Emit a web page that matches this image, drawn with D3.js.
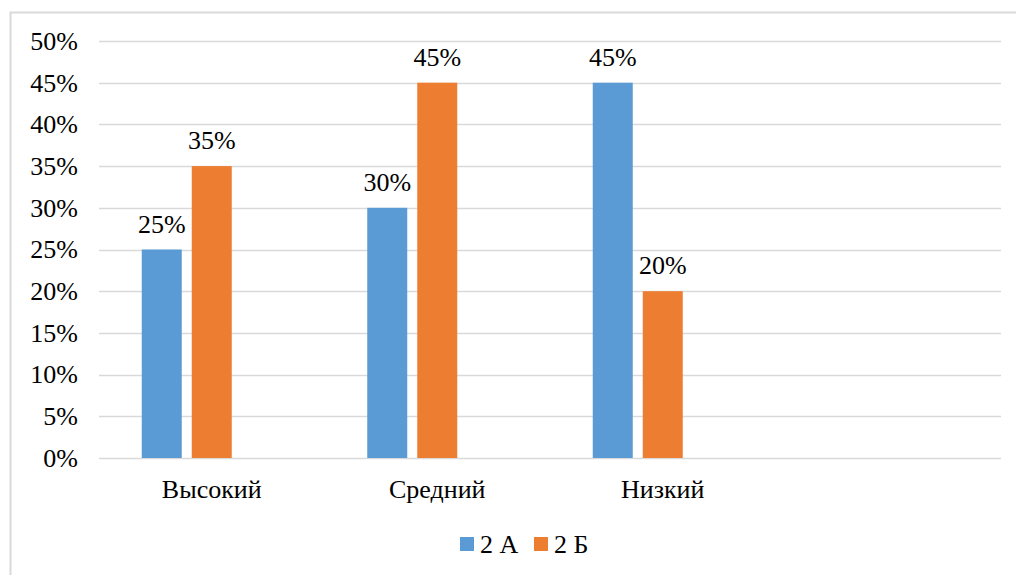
<!DOCTYPE html>
<html>
<head>
<meta charset="utf-8">
<script src="https://cdn.jsdelivr.net/npm/d3@7"></script>
<style>
   body { margin: 0; background: #fff; }
   svg text { font-family: 'Liberation Serif', 'Times New Roman', Tinos, 'DejaVu Serif', serif; fill: #000; }
</style>
</head>
<body>
<div id="chart"></div>
<script>
// CHART DATA
var categories = ['Высокий', 'Средний', 'Низкий', ''];
var seriesNames = ['2 А', '2 Б'];
var seriesA = [0.25, 0.30, 0.45];
var seriesB = [0.35, 0.45, 0.20];
var yTicks = [0, 0.05, 0.10, 0.15, 0.20, 0.25, 0.30, 0.35, 0.40, 0.45, 0.50];

var colors = ['#5B9BD5', '#ED7D31'];
var FONT = "'Liberation Serif', 'Times New Roman', Tinos, 'DejaVu Serif', serif";

// CANVAS SETTINGS
var settings = { width: 1016, height: 575, left: 99, right: 1001, top: 41, bottom: 458 };

var svg = d3.select('#chart').append('svg')
   .attr('width', settings.width)
   .attr('height', settings.height)
   .style('font-family', FONT)

// CHART FRAME
svg.append('rect')
   .attr('x', 10.5)
   .attr('y', 12.5)
   .attr('width', 1020)
   .attr('height', 600)
   .attr('fill', 'none')
   .attr('stroke', '#D9D9D9')
   .attr('stroke-width', 2)

// Y-SCALING
var yScale = d3.scaleLinear()
   .domain([0, 0.5])
   .range([settings.bottom, settings.top])

// X-SCALING (OUTER CATEGORY + INNER SERIES SLOTS, THIRD SLOT EMPTY)
var x0 = d3.scaleBand()
   .domain(d3.range(categories.length))
   .range([settings.left, settings.right])

var x1 = d3.scaleBand()
   .domain([0, 1, 2])
   .range([0, x0.bandwidth()])
   .paddingInner(0.2)
   .paddingOuter(0.855)

// GRIDLINES
svg.append('g')
   .selectAll('line')
   .data(yTicks)
   .enter().append('line')
      .attr('x1', settings.left)
      .attr('x2', settings.right)
      .attr('y1', d => Math.round(yScale(d)) + 0.5)
      .attr('y2', d => Math.round(yScale(d)) + 0.5)
      .attr('stroke', '#D9D9D9')
      .attr('stroke-width', 1.3)

// Y-AXIS LABELS
var yAxis = d3.axisLeft(yScale)
   .tickValues(yTicks)
   .tickFormat(d3.format('.0%'))
   .tickSize(0)
   .tickPadding(21)

svg.append('g')
   .attr('transform', 'translate(' + settings.left + ',0)')
   .call(yAxis)
   .attr('font-family', null)
   .attr('font-size', null)
   .call(g => g.select('.domain').remove())
   .selectAll('text')
      .style('font-family', FONT)
      .style('font-size', '26px')
      .attr('fill', '#000')

// BARS
var series = [seriesA, seriesB];
series.forEach((vals, s) => {
   svg.append('g')
      .selectAll('rect')
      .data(vals)
      .enter().append('rect')
         .attr('x', (d, i) => x0(i) + x1(s))
         .attr('y', d => yScale(d))
         .attr('width', x1.bandwidth())
         .attr('height', d => yScale(0) - yScale(d))
         .attr('fill', colors[s])

   // VALUE LABELS
   svg.append('g')
      .selectAll('text')
      .data(vals)
      .enter().append('text')
         .attr('x', (d, i) => x0(i) + x1(s) + x1.bandwidth() / 2)
         .attr('y', d => yScale(d) - 17)
         .attr('text-anchor', 'middle')
         .style('font-size', '26px')
         .text(d => d3.format('.0%')(d))
});

// CATEGORY LABELS
svg.append('g')
   .selectAll('text')
   .data(categories)
   .enter().append('text')
      .attr('x', (d, i) => x0(i) + x0.bandwidth() / 2)
      .attr('y', 498)
      .attr('text-anchor', 'middle')
      .style('font-size', '26px')
      .text(d => d)

// LEGEND
var legendX = [460, 534];
seriesNames.forEach((name, s) => {
   svg.append('rect')
      .attr('x', legendX[s])
      .attr('y', 537)
      .attr('width', 14)
      .attr('height', 14)
      .attr('fill', colors[s])

   svg.append('text')
      .attr('x', legendX[s] + 20)
      .attr('y', 553)
      .style('font-size', '26px')
      .text(name)
});
</script>
</body>
</html>
